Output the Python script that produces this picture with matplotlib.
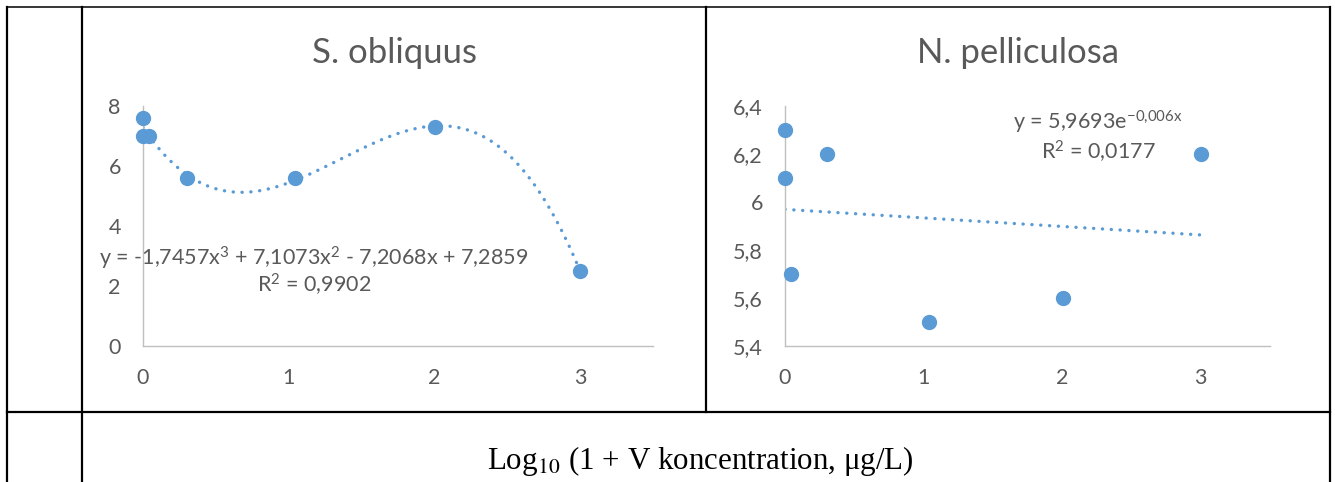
import numpy as np
import matplotlib
matplotlib.use("Agg")
import matplotlib.pyplot as plt
from matplotlib.lines import Line2D
from matplotlib.ticker import FuncFormatter

# log10(1 + V concentration) for each sample
x_vals = [0, 0, 0.041, 0.301, 1.041, 2.004, 3.0]
obliquus = [7.6, 7.0, 7.0, 5.6, 5.6, 7.3, 2.5]
x_pell = [0, 0, 0.041, 0.301, 1.041, 2.004, 3.0]
pelliculosa = [6.3, 6.1, 5.7, 6.2, 5.5, 5.6, 6.2]

# trendline coefficients (cubic and exponential)
poly_coef = [-1.7457, 7.1073, -7.2068, 7.2859]
exp_a, exp_b = 5.9693, -0.006

plt.rcParams["font.family"] = ["Lato", "DejaVu Sans"]
plt.rcParams["mathtext.fontset"] = "custom"
plt.rcParams["mathtext.rm"] = "Lato"
plt.rcParams["mathtext.it"] = "Lato"

blue = "#5B9BD5"
grey_txt = "#595959"
W, H = 1335, 482

fig = plt.figure(figsize=(W / 100, H / 100), dpi=100)


def comma(v, pos):
    return ("%g" % round(v, 2)).replace(".", ",")


def style(ax, ylim, yticks):
    ax.set_xlim(0, 3.5)
    ax.set_ylim(*ylim)
    ax.set_xticks([0, 1, 2, 3])
    ax.set_yticks(yticks)
    ax.yaxis.set_major_formatter(FuncFormatter(comma))
    for s in ["top", "right"]:
        ax.spines[s].set_visible(False)
    for s in ["left", "bottom"]:
        ax.spines[s].set_color("#BFBFBF")
        ax.spines[s].set_linewidth(1.0)
    ax.tick_params(length=0, labelsize=15.5, labelcolor=grey_txt)
    ax.tick_params(axis="x", pad=16)
    ax.tick_params(axis="y", pad=16)
    ax.patch.set_alpha(0)


# S. obliquus
ax1 = fig.add_axes([143 / W, 1 - 346 / H, 510 / W, 240 / H])
style(ax1, (0, 8), [0, 2, 4, 6, 8])
xf = np.linspace(0, max(x_vals), 300)
ax1.plot(xf, np.polyval(poly_coef, xf), color=blue, lw=2.4,
         linestyle=(0, (0.05, 2.6)), dash_capstyle="round", zorder=2)
ax1.plot(x_vals, obliquus, "o", color=blue, ms=10, clip_on=False, zorder=3)
ax1.text(314, H - 265,
         r"y = -1,7457x$^{\mathrm{3}}$ + 7,1073x$^{\mathrm{2}}$ - 7,2068x + 7,2859",
         transform=None, ha="center", va="baseline", fontsize=15.5, color=grey_txt)
ax1.text(314, H - 293, r"R$^{\mathrm{2}}$ = 0,9902", transform=None, ha="center",
         va="baseline", fontsize=15.5, color=grey_txt)

# N. pelliculosa
ax2 = fig.add_axes([785 / W, 1 - 346 / H, 485 / W, 240 / H])
style(ax2, (5.4, 6.4), [5.4, 5.6, 5.8, 6.0, 6.2, 6.4])
xe = np.linspace(0, max(x_pell), 300)
ax2.plot(xe, exp_a * np.exp(exp_b * xe), color=blue, lw=2.4,
         linestyle=(0, (0.05, 2.6)), dash_capstyle="round", zorder=2)
ax2.plot(x_pell, pelliculosa, "o", color=blue, ms=10, clip_on=False, zorder=3)
ax2.text(1098, H - 130, r"y = 5,9693e$^{\mathrm{-0{,}006x}}$", transform=None,
         ha="center", va="baseline", fontsize=15.5, color=grey_txt)
ax2.text(1098, H - 160, r"R$^{\mathrm{2}}$ = 0,0177", transform=None, ha="center",
         va="baseline", fontsize=15.5, color=grey_txt)

# panel titles
fig.text(394 / W, 1 - 63 / H, "S. obliquus", ha="center", va="baseline",
         fontsize=25, color=grey_txt)
fig.text(1018 / W, 1 - 63 / H, "N. pelliculosa", ha="center", va="baseline",
         fontsize=25, color=grey_txt)

# shared x label in the bottom row
fig.text(700 / W, 1 - 469 / H, r"Log$_{10}$ (1 + V koncentration, μg/L)",
         ha="center", va="baseline", fontsize=22.3, color="black",
         family="Liberation Serif", math_fontfamily="stix")

# table rules
def hline(y, x0, x1, lw=1.6):
    fig.add_artist(Line2D([x0 / W, x1 / W], [1 - y / H, 1 - y / H],
                          color="black", lw=lw, transform=fig.transFigure))


def vline(x, y0, y1):
    fig.add_artist(Line2D([x / W, x / W], [1 - y0 / H, 1 - y1 / H],
                          color="black", lw=1.6, transform=fig.transFigure))


hline(6.5, 7, 1330, lw=1.1)
hline(412, 7, 1330)
vline(7, 6.5, H)
vline(82, 6.5, H)
vline(706, 6.5, 412)
vline(1330, 6.5, H)

fig.savefig("out.png", dpi=100)
